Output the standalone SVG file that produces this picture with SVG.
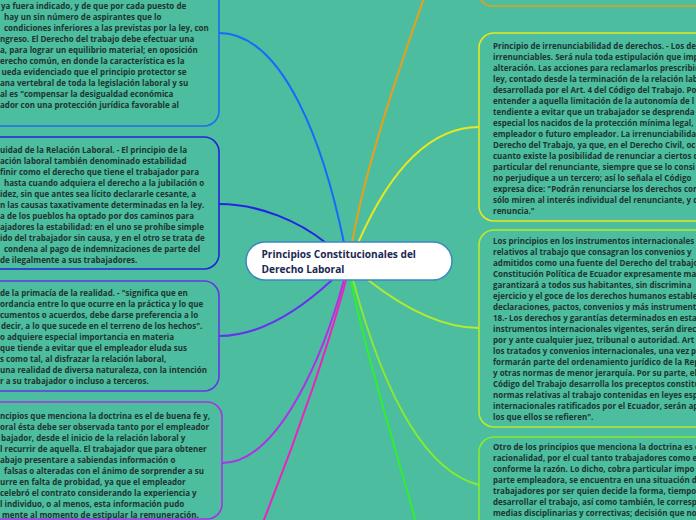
<svg xmlns="http://www.w3.org/2000/svg" width="696" height="520" viewBox="0 0 696 520">
<style>
.bg{fill:#4cbd9f}
.node{fill:#4cbd9f;stroke-width:1.6}
.t{font-family:"Open Sans","Noto Sans","Liberation Sans",sans-serif;font-size:8px;font-weight:700;fill:#1e3530}
.c{fill:none;stroke-width:2;stroke-linecap:round}
.center{fill:#ffffff;stroke:#3a86c6;stroke-width:1.5}
.ct{font-family:"Open Sans","Noto Sans","Liberation Sans",sans-serif;font-size:10.1px;font-weight:700;fill:#1b2852}
</style>
<rect class="bg" x="0" y="0" width="696" height="520"/>
<g id="connectors">
<path class="c" stroke="#1a66ff" d="M219,33 C285,33 325,150 344,243"/>
<path class="c" stroke="#2424e0" d="M219,204 C260,204 300,222 326,243"/>
<path class="c" stroke="#6a30f0" d="M219,336 C265,336 305,305 332,280"/>
<path class="c" stroke="#b030e8" d="M222,463 C280,463 325,350 344,280"/>
<path class="c" stroke="#f020c0" d="M263,522 C300,430 330,340 346,280"/>
<path class="c" stroke="#e8a018" d="M424,-2 C395,80 365,170 352,243"/>
<path class="c" stroke="#e8e820" d="M479,127 C430,127 390,170 358,243"/>
<path class="c" stroke="#b4ea30" d="M479,328 C440,328 400,305 368,280"/>
<path class="c" stroke="#86ea30" d="M479,485 C420,470 380,380 353,280"/>
<path class="c" stroke="#30ee30" d="M416,522 C390,430 365,350 351,280"/>
</g>
<g id="node-l1">
<rect class="node" stroke="#1f6cf0" x="-300" y="-100" width="519" height="226" rx="15"/>
<text class="t"><tspan x="1" y="8.5">ya fuera indicado, y de que por cada puesto de</tspan><tspan x="4" y="19.5">hay un sin número de aspirantes que lo</tspan><tspan x="4" y="30.5">condiciones inferiores a las previstas por la ley, con</tspan><tspan x="0" y="41.5">ngreso. El Derecho del trabajo debe efectuar una</tspan><tspan x="0" y="52.5">a, para lograr un equilibrio material; en oposición</tspan><tspan x="0" y="63.5">erecho común, en donde la característica es la</tspan><tspan x="1.5" y="74.5">ueda evidenciado que el principio protector se</tspan><tspan x="0" y="85.5">ana vertebral de toda la legislación laboral y su</tspan><tspan x="0" y="96.5">al es "compensar la desigualdad económica</tspan><tspan x="0" y="107.5">ador con una protección jurídica favorable al</tspan></text>
</g>
<g id="node-l2">
<rect class="node" stroke="#2424dc" x="-300" y="137" width="519" height="132" rx="15"/>
<text class="t"><tspan x="0" y="152.5">uidad de la Relación Laboral. - El principio de la</tspan><tspan x="0" y="163.5">ación laboral también denominado estabilidad</tspan><tspan x="0" y="174.5">finir como el derecho que tiene el trabajador para</tspan><tspan x="4" y="185.5">hasta cuando adquiera el derecho a la jubilación o</tspan><tspan x="0" y="196.5">idez, sin que antes sea lícito declararle cesante, a</tspan><tspan x="0" y="207.5">n las causas taxativamente determinadas en la ley.</tspan><tspan x="0" y="218.5">a de los pueblos ha optado por dos caminos para</tspan><tspan x="0" y="229.5">ajadores la estabilidad: en el uno se prohíbe simple</tspan><tspan x="0" y="240.5">ido del trabajador sin causa, y en el otro se trata de</tspan><tspan x="4" y="251.5">condena al pago de indemnizaciones de parte del</tspan><tspan x="0" y="262.5">de ilegalmente a sus trabajadores.</tspan></text>
</g>
<g id="node-l3">
<rect class="node" stroke="#6a34ec" x="-300" y="281" width="519" height="110" rx="15"/>
<text class="t"><tspan x="0" y="296">de la primacía de la realidad. - "significa que en</tspan><tspan x="0" y="307">ordancia entre lo que ocurre en la práctica y lo que</tspan><tspan x="0" y="318">cumentos o acuerdos, debe darse preferencia a lo</tspan><tspan x="1" y="329">decir, a lo que sucede en el terreno de los hechos".</tspan><tspan x="0" y="340">o adquiere especial importancia en materia</tspan><tspan x="0" y="351">que tiende a evitar que el empleador eluda sus</tspan><tspan x="0" y="362">s como tal, al disfrazar la relación laboral,</tspan><tspan x="0" y="373">una realidad de diversa naturaleza, con la intención</tspan><tspan x="0" y="384">r a su trabajador o incluso a terceros.</tspan></text>
</g>
<g id="node-l4">
<rect class="node" stroke="#a832e6" x="-300" y="402" width="522" height="117" rx="15"/>
<text class="t"><tspan x="0" y="418.5">ncipios que menciona la doctrina es el de buena fe y,</tspan><tspan x="0" y="429.5">oral ésta debe ser observada tanto por el empleador</tspan><tspan x="1" y="440.5">bajador, desde el inicio de la relación laboral y</tspan><tspan x="0" y="451.5">l recurrir de aquella. El trabajador que para obtener</tspan><tspan x="0" y="462.5">abajo presentare a sabiendas información o</tspan><tspan x="4" y="473.5">falsas o alteradas con el ánimo de sorprender a su</tspan><tspan x="0" y="484.5">urre en falta de probidad, ya que el empleador</tspan><tspan x="0" y="495.5">celebró el contrato considerando la experiencia y</tspan><tspan x="0" y="506.5">l individuo, o al menos, esta información pudo</tspan><tspan x="2" y="517.5">mente al momento de estipular la remuneración.</tspan></text>
</g>
<g id="node-r1">
<rect class="node" stroke="#e8a018" x="479" y="-120" width="300" height="126" rx="13"/>
</g>
<g id="node-r2">
<rect class="node" stroke="#e4e820" x="479" y="33" width="300" height="188" rx="15"/>
<text class="t"><tspan x="493" y="48.7">Principio de irrenunciabilidad de derechos. - Los der</tspan><tspan x="493" y="59.7">irrenunciables. Será nula toda estipulación que imp</tspan><tspan x="493" y="70.7">alteración. Las acciones para reclamarlos prescribir</tspan><tspan x="493" y="81.7">ley, contado desde la terminación de la relación lab</tspan><tspan x="493" y="92.7">desarrollada por el Art. 4 del Código del Trabajo. Po</tspan><tspan x="493" y="103.7">entender a aquella limitación de la autonomía de l</tspan><tspan x="493" y="114.7">tendiente a evitar que un trabajador se desprenda</tspan><tspan x="493" y="125.7">especial los nacidos de la protección mínima legal,</tspan><tspan x="493" y="136.7">empleador o futuro empleador. La irrenunciabilidad</tspan><tspan x="493" y="147.7">Derecho del Trabajo, ya que, en el Derecho Civil, ocu</tspan><tspan x="493" y="158.7">cuanto existe la posibilidad de renunciar a ciertos c</tspan><tspan x="493" y="169.7">particular del renunciante, siempre que se lo consi</tspan><tspan x="493" y="180.7">no perjudique a un tercero; así lo señala el Código</tspan><tspan x="493" y="191.7">expresa dice: "Podrán renunciarse los derechos con</tspan><tspan x="493" y="202.7">sólo miren al interés individual del renunciante, y q</tspan><tspan x="493" y="213.7">renuncia."</tspan></text>
</g>
<g id="node-r3">
<rect class="node" stroke="#b4ea30" x="479" y="230" width="300" height="197" rx="15"/>
<text class="t"><tspan x="493" y="243.7">Los principios en los instrumentos internacionales</tspan><tspan x="493" y="254.7">relativos al trabajo que consagran los convenios y</tspan><tspan x="493" y="265.7">admitidos como una fuente del Derecho del trabajo</tspan><tspan x="493" y="276.7">Constitución Política de Ecuador expresamente ma</tspan><tspan x="493" y="287.7">garantizará a todos sus habitantes, sin discrimina</tspan><tspan x="493" y="298.7">ejercicio y el goce de los derechos humanos estable</tspan><tspan x="493" y="309.7">declaraciones, pactos, convenios y más instrument</tspan><tspan x="493" y="320.7">18.- Los derechos y garantías determinados en esta</tspan><tspan x="493" y="331.7">instrumentos internacionales vigentes, serán direc</tspan><tspan x="493" y="342.7">por y ante cualquier juez, tribunal o autoridad. Art</tspan><tspan x="493" y="353.7">los tratados y convenios internacionales, una vez p</tspan><tspan x="493" y="364.7">formarán parte del ordenamiento jurídico de la Rep</tspan><tspan x="493" y="375.7">y otras normas de menor jerarquía. Por su parte, el</tspan><tspan x="493" y="386.7">Código del Trabajo desarrolla los preceptos constitu</tspan><tspan x="493" y="397.7">normas relativas al trabajo contenidas en leyes esp</tspan><tspan x="493" y="408.7">internacionales ratificados por el Ecuador, serán ap</tspan><tspan x="493" y="419.7">los que ellos se refieren".</tspan></text>
</g>
<g id="node-r4">
<rect class="node" stroke="#86ea30" x="479" y="437" width="300" height="120" rx="15"/>
<text class="t"><tspan x="493" y="450">Otro de los principios que menciona la doctrina es e</tspan><tspan x="493" y="461">racionalidad, por el cual tanto trabajadores como e</tspan><tspan x="493" y="472">conforme la razón. Lo dicho, cobra particular impo</tspan><tspan x="493" y="483">parte empleadora, se encuentra en una situación d</tspan><tspan x="493" y="494">trabajadores por ser quien decide la forma, tiempo</tspan><tspan x="493" y="505">desarrollar el trabajo, así como también, le corresp</tspan><tspan x="493" y="516">medias disciplinarias y correctivas; decisión que no</tspan></text>
</g>
<g id="node-center">
<rect class="center" x="246" y="242" width="206" height="38" rx="19"/>
<text class="ct"><tspan x="261.5" y="258">Principios Constitucionales del</tspan><tspan x="261.5" y="272.5">Derecho Laboral</tspan></text>
</g>
</svg>
